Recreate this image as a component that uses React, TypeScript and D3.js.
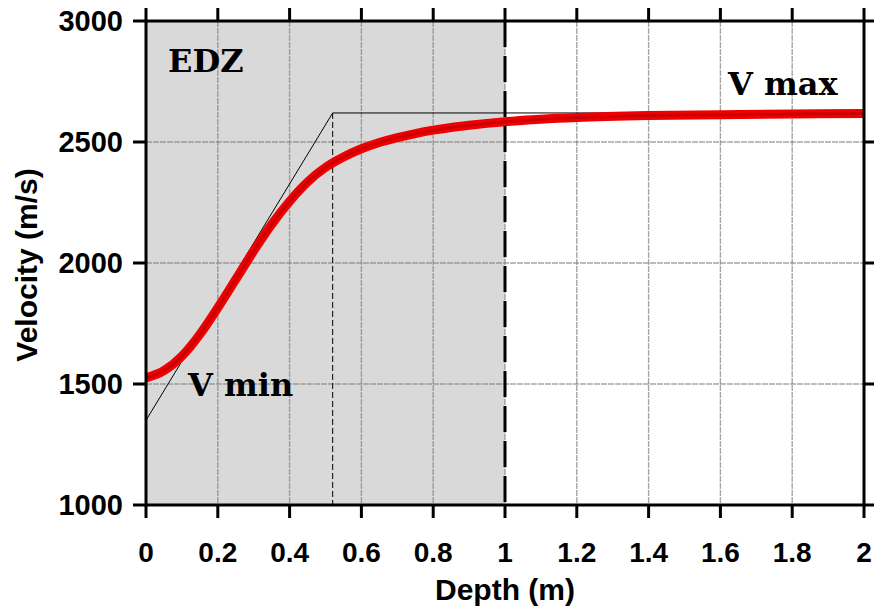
import React from "react";
import * as d3 from "d3";

const xTicks = [0, 0.2, 0.4, 0.6, 0.8, 1, 1.2, 1.4, 1.6, 1.8, 2];
const xTickLabels = ["0", "0.2", "0.4", "0.6", "0.8", "1", "1.2", "1.4", "1.6", "1.8", "2"];
const yTicks = [1000, 1500, 2000, 2500, 3000];
const yTickLabels = ["1000", "1500", "2000", "2500", "3000"];

const curveDepth = [0, 0.05, 0.1, 0.15, 0.2, 0.25, 0.3, 0.35, 0.4, 0.45, 0.5, 0.55, 0.6, 0.65, 0.7, 0.75, 0.8, 0.85, 0.9, 0.95, 1.0, 1.1, 1.2, 1.4, 1.6, 1.8, 2.0];
const curveVelocity = [1525, 1555, 1615, 1705, 1815, 1932, 2050, 2160, 2255, 2335, 2395, 2438, 2472, 2498, 2518, 2535, 2549, 2560, 2569, 2577, 2584, 2594, 2601, 2609, 2613, 2616, 2618];

const modelDepth = [0, 0.52, 2];
const modelVelocity = [1350, 2620, 2620];

const edzDepth = 1;
const kneeDepth = 0.52;
const vMax = 2620;

const W = 874, H = 611;
const L = 146, R = 864, T = 21, B = 505;

export default function App() {
  const x = d3.scaleLinear().domain([0, 2]).range([L, R]);
  const y = d3.scaleLinear().domain([1000, 3000]).range([B, T]);

  const curvePts: [number, number][] = curveDepth.map((d, i) => [d, curveVelocity[i]]);
  const modelPts: [number, number][] = modelDepth.map((d, i) => [d, modelVelocity[i]]);
  const lineGen = d3.line<[number, number]>().x(d => x(d[0])).y(d => y(d[1]));
  const smooth = d3.line<[number, number]>().x(d => x(d[0])).y(d => y(d[1])).curve(d3.curveMonotoneX);

  const tickFont = "'Liberation Sans', Arial, sans-serif";
  const serif = "'DejaVu Serif', serif";

  return (
    <div style={{ position: "absolute", left: 0, top: 0 }}>
      <svg width={W} height={H} style={{ display: "block", background: "#fff" }}>
        <rect x={x(0)} y={T} width={x(edzDepth) - x(0)} height={B - T} fill="#d9d9d9" />
        {xTicks.slice(1, -1).map(t => (
          <line key={"gx" + t} x1={x(t)} x2={x(t)} y1={T} y2={B} stroke="#808080" strokeOpacity={0.7} strokeWidth={1.4} strokeDasharray="6,1" />
        ))}
        {yTicks.slice(1, -1).map(t => (
          <line key={"gy" + t} x1={L} x2={R} y1={y(t)} y2={y(t)} stroke="#808080" strokeOpacity={0.7} strokeWidth={1.4} strokeDasharray="6,1" />
        ))}
        <path d={lineGen(modelPts) || ""} fill="none" stroke="#000" strokeWidth={1} />
        <line x1={x(kneeDepth)} x2={x(kneeDepth)} y1={y(vMax)} y2={B} stroke="#000" strokeWidth={1} strokeDasharray="6,3" />
        <path d={smooth(curvePts) || ""} fill="none" stroke="#f00000" strokeWidth={9} strokeLinecap="butt" />
        <path d={smooth(curvePts) || ""} fill="none" stroke="#cc0000" strokeWidth={3} />
        <line x1={x(edzDepth)} x2={x(edzDepth)} y1={T} y2={B} stroke="#000" strokeWidth={3} strokeDasharray="26,9" />
        <rect x={L} y={T} width={R - L} height={B - T} fill="none" stroke="#000" strokeWidth={3} />
        {xTicks.map(t => (
          <g key={"tx" + t}>
            <line x1={x(t)} x2={x(t)} y1={B} y2={B + 13} stroke="#000" strokeWidth={3} />
            <line x1={x(t)} x2={x(t)} y1={T} y2={T - 13} stroke="#000" strokeWidth={3} />
          </g>
        ))}
        {yTicks.map(t => (
          <g key={"ty" + t}>
            <line x1={L} x2={L - 13} y1={y(t)} y2={y(t)} stroke="#000" strokeWidth={3} />
            <line x1={R} x2={R + 13} y1={y(t)} y2={y(t)} stroke="#000" strokeWidth={3} />
          </g>
        ))}
        {xTicks.map((t, i) => (
          <text key={"lx" + t} x={x(t)} y={562} textAnchor="middle" fontFamily={tickFont} fontWeight="bold" fontSize={28}>{xTickLabels[i]}</text>
        ))}
        {yTicks.map((t, i) => (
          <text key={"ly" + t} x={123} y={y(t) + 10} textAnchor="end" fontFamily={tickFont} fontWeight="bold" fontSize={29}>{yTickLabels[i]}</text>
        ))}
        <text x={(L + R) / 2} y={600} textAnchor="middle" fontFamily={tickFont} fontWeight="bold" fontSize={30}>Depth (m)</text>
        <text transform={`translate(37,${(T + B) / 2 + 2}) rotate(-90)`} textAnchor="middle" fontFamily={tickFont} fontWeight="bold" fontSize={30}>Velocity (m/s)</text>
        <text x={168} y={72} fontFamily={serif} fontWeight="bold" fontSize={32}>EDZ</text>
        <text x={188} y={396} fontFamily={serif} fontWeight="bold" fontSize={32}>V min</text>
        <text x={728} y={95} fontFamily={serif} fontWeight="bold" fontSize={32}>V max</text>
      </svg>
    </div>
  );
}
